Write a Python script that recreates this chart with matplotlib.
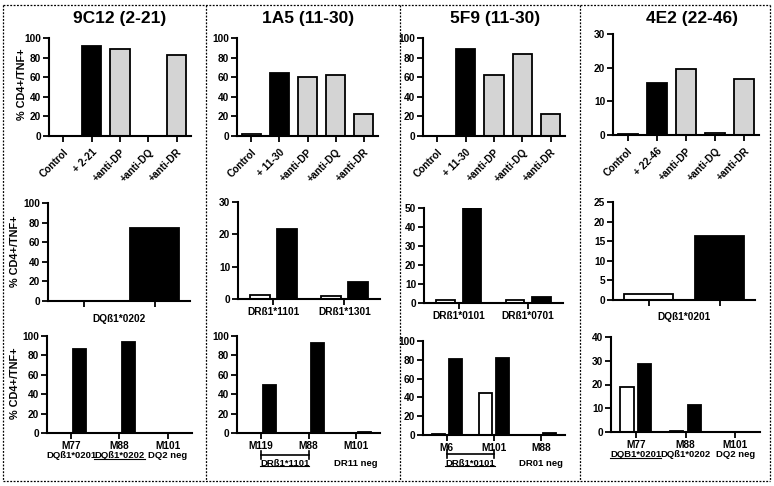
import matplotlib.pyplot as plt
from matplotlib.lines import Line2D
from matplotlib.transforms import IdentityTransform
import numpy as np

plt.rcParams['font.family'] = ['Liberation Sans', 'DejaVu Sans']
plt.rcParams['font.weight'] = 'bold'
plt.rcParams['font.size'] = 7.3

W, H = 774, 486

# -----------------------------
# Data
# -----------------------------
titles = ["9C12 (2-21)", "1A5 (11-30)", "5F9 (11-30)", "4E2 (22-46)"]

# top row: controls / peptide / blocking antibodies
treat_labels_9c12 = ["Control", "+ 2-21", "+anti-DP", "+anti-DQ", "+anti-DR"]
treat_labels_1a5 = ["Control", "+ 11-30", "+anti-DP", "+anti-DQ", "+anti-DR"]
treat_labels_5f9 = ["Control", "+ 11-30", "+anti-DP", "+anti-DQ", "+anti-DR"]
treat_labels_4e2 = ["Control", "+ 22-46", "+anti-DP", "+anti-DQ", "+anti-DR"]
treat_9c12 = [0, 92, 89, 0, 83]
treat_1a5 = [2, 64, 60, 62, 22]
treat_5f9 = [0.5, 89, 62, 84, 22]
treat_4e2 = [0.3, 15.5, 19.7, 0.7, 16.5]

# middle row: single-allele APCs (white = no peptide, black = peptide)
mid_allele_9c12 = "DQß1*0202"
mid_9c12 = [0, 75]
mid_alleles_1a5 = ["DRß1*1101", "DRß1*1301"]
mid_white_1a5 = [1.2, 0.8]
mid_black_1a5 = [21.5, 5.3]
mid_alleles_5f9 = ["DRß1*0101", "DRß1*0701"]
mid_white_5f9 = [1.5, 1.5]
mid_black_5f9 = [50, 3]
mid_allele_4e2 = "DQß1*0201"
mid_4e2 = [1.6, 16.2]

# bottom row: donor APCs
donors_9c12 = ["M77", "M88", "M101"]
alleles_9c12 = ["DQß1*0201", "DQß1*0202", "DQ2 neg"]
bot_white_9c12 = [0.5, 0.5, 0.5]
bot_black_9c12 = [87, 94, 0.5]

donors_1a5 = ["M119", "M88", "M101"]
bot_white_1a5 = [0.4, 0.5, 0.3]
bot_black_1a5 = [50, 93, 0.8]

donors_5f9 = ["M6", "M101", "M88"]
bot_white_5f9 = [1.5, 45, 0.5]
bot_black_5f9 = [81, 82, 2.5]

donors_4e2 = ["M77", "M88", "M101"]
alleles_4e2 = ["DQB1*0201", "DQß1*0202", "DQ2 neg"]
bot_white_4e2 = [18.8, 0.3, 0.2]
bot_black_4e2 = [28.5, 11.5, 0.2]

GREY = '#d4d4d4'
treat_colors = ['white', 'black', GREY, GREY, GREY]

fig = plt.figure(figsize=(W / 100, H / 100), dpi=100)
underlined = []


def add_ax(l, t, r, b):
    return fig.add_axes([l / W, 1 - b / H, (r - l) / W, (b - t) / H])


def style(ax, ymax, ystep):
    for s in ['top', 'right']:
        ax.spines[s].set_visible(False)
    for s in ['left', 'bottom']:
        ax.spines[s].set_linewidth(1.5)
    ax.set_ylim(0, ymax)
    ax.set_yticks(np.arange(0, ymax + 0.1, ystep))
    ax.tick_params(width=1.3, length=4, pad=1.5, labelsize=7.3)


def below(ax, x, text, dy, underline=False, size=7.3):
    t = ax.annotate(text, xy=(x, 0), xycoords=ax.get_xaxis_transform(),
                    xytext=(0, dy), textcoords='offset points',
                    ha='center', va='top', fontsize=size, fontweight='bold',
                    annotation_clip=False)
    if underline:
        underlined.append(t)
    return t


def bracket(ax, x0, x1, dy):
    tr = ax.get_xaxis_transform()
    h = ax.bbox.height
    y = dy / h
    c = 4 / h
    ax.plot([x0, x1], [y, y], color='black', lw=1.2, transform=tr, clip_on=False)
    for x in (x0, x1):
        ax.plot([x, x], [y - c, y + c], color='black', lw=1.2, transform=tr, clip_on=False)


# -----------------------------
# Top row
# -----------------------------
top_boxes = [(49, 38, 191, 136), (237, 38, 378, 136), (423, 38, 565, 136), (613, 34, 759, 135)]
top_vals = [treat_9c12, treat_1a5, treat_5f9, treat_4e2]
top_labs = [treat_labels_9c12, treat_labels_1a5, treat_labels_5f9, treat_labels_4e2]
top_ymax = [100, 100, 100, 30]
top_step = [20, 20, 20, 10]
title_x = [120, 308, 495, 692]

for i in range(4):
    ax = add_ax(*top_boxes[i])
    x = np.arange(len(top_vals[i]))
    ax.bar(x, top_vals[i], width=0.68, color=treat_colors, edgecolor='black', linewidth=1.3)
    style(ax, top_ymax[i], top_step[i])
    ax.tick_params(axis='x', pad=4)
    ax.set_xlim(-0.5, 4.5)
    ax.set_xticks(x)
    ax.set_xticklabels(top_labs[i], rotation=45, ha='right', rotation_mode='anchor',
                       fontsize=7.3, fontweight='bold')
    fig.text(title_x[i] / W, 1 - 18 / H, titles[i], ha='center', va='center',
             fontsize=12.5, fontweight='bold')

# -----------------------------
# Middle row
# -----------------------------
ax = add_ax(48, 203, 190, 301)
ax.bar([0, 1], mid_9c12, width=0.7, color=['white', 'black'], edgecolor='black', linewidth=1.3)
style(ax, 100, 20)
ax.set_xlim(-0.5, 1.5)
ax.set_xticks([0, 1])
ax.set_xticklabels(['', ''])
below(ax, 0.5, mid_allele_9c12, -9)

for box, alle, wv, bv, ymax, step in [
        ((238, 202, 380, 299), mid_alleles_1a5, mid_white_1a5, mid_black_1a5, 30, 10),
        ((424, 208, 563, 303), mid_alleles_5f9, mid_white_5f9, mid_black_5f9, 50, 10)]:
    ax = add_ax(*box)
    x = np.arange(len(alle))
    ax.bar(x - 0.19, wv, width=0.27, color='white', edgecolor='black', linewidth=1.3)
    ax.bar(x + 0.19, bv, width=0.27, color='black', edgecolor='black', linewidth=1.3)
    style(ax, ymax, step)
    ax.set_xlim(-0.5, 1.5)
    ax.set_xticks(x)
    ax.set_xticklabels(alle)

ax = add_ax(613, 202, 755, 300)
ax.bar([0, 1], mid_4e2, width=0.68, color=['white', 'black'], edgecolor='black', linewidth=1.3)
style(ax, 25, 5)
ax.set_xlim(-0.5, 1.5)
ax.set_xticks([0, 1])
ax.set_xticklabels(['', ''])
below(ax, 0.5, mid_allele_4e2, -9)

# -----------------------------
# Bottom row
# -----------------------------
bot_boxes = [(47, 336, 192, 433), (237, 336, 380, 433), (423, 341, 565, 435), (611, 337, 760, 432)]
bot_donors = [donors_9c12, donors_1a5, donors_5f9, donors_4e2]
bot_white = [bot_white_9c12, bot_white_1a5, bot_white_5f9, bot_white_4e2]
bot_black = [bot_black_9c12, bot_black_1a5, bot_black_5f9, bot_black_4e2]
bot_ymax = [100, 100, 100, 40]
bot_step = [20, 20, 20, 10]
bot_axes = []

for i in range(4):
    ax = add_ax(*bot_boxes[i])
    x = np.arange(3)
    ax.bar(x - 0.18, bot_white[i], width=0.27, color='white', edgecolor='black', linewidth=1.3)
    ax.bar(x + 0.18, bot_black[i], width=0.27, color='black', edgecolor='black', linewidth=1.3)
    style(ax, bot_ymax[i], bot_step[i])
    ax.set_xlim(-0.5, 2.5)
    ax.set_xticks(x)
    ax.set_xticklabels(bot_donors[i])
    bot_axes.append(ax)

for j, a in enumerate(alleles_9c12):
    below(bot_axes[0], j, a, -13, underline=(j == 1), size=6.8)
for j, a in enumerate(alleles_4e2):
    below(bot_axes[3], j, a, -13, underline=(j == 0), size=6.8)

bracket(bot_axes[1], 0, 1, -22)
below(bot_axes[1], 0.5, "DRß1*1101", -18.5, underline=True, size=6.8)
below(bot_axes[1], 2, "DR11 neg", -18.5, size=6.8)

bracket(bot_axes[2], 0, 1, -19)
below(bot_axes[2], 0.5, "DRß1*0101", -17, underline=True, size=6.8)
below(bot_axes[2], 2, "DR01 neg", -17, size=6.8)

# y labels
for (xp, yp) in [(22, 84), (15, 251), (15, 383)]:
    fig.text(xp / W, 1 - yp / H, "% CD4+/TNF+", rotation=90, ha='center', va='center',
             fontsize=7.8, fontweight='bold')

# -----------------------------
# Dashed panel frames
# -----------------------------
dash = dict(color='black', lw=0.9, linestyle=(0, (1.5, 1.2)), transform=fig.transFigure)
L, R, T, B = 3, 770, 5, 481
fig.add_artist(Line2D([L / W, R / W], [1 - T / H, 1 - T / H], **dash))
fig.add_artist(Line2D([L / W, R / W], [1 - B / H, 1 - B / H], **dash))
for xs in [L, 206, 400, 580, R]:
    fig.add_artist(Line2D([xs / W, xs / W], [1 - T / H, 1 - B / H], **dash))

# underline selected allele names
fig.canvas.draw()
rend = fig.canvas.get_renderer()
for t in underlined:
    bb = t.get_window_extent(rend)
    fig.add_artist(Line2D([bb.x0, bb.x1], [bb.y0 + 1.5, bb.y0 + 1.5], color='black',
                          lw=0.8, transform=IdentityTransform()))

fig.savefig("out.png", dpi=100)
